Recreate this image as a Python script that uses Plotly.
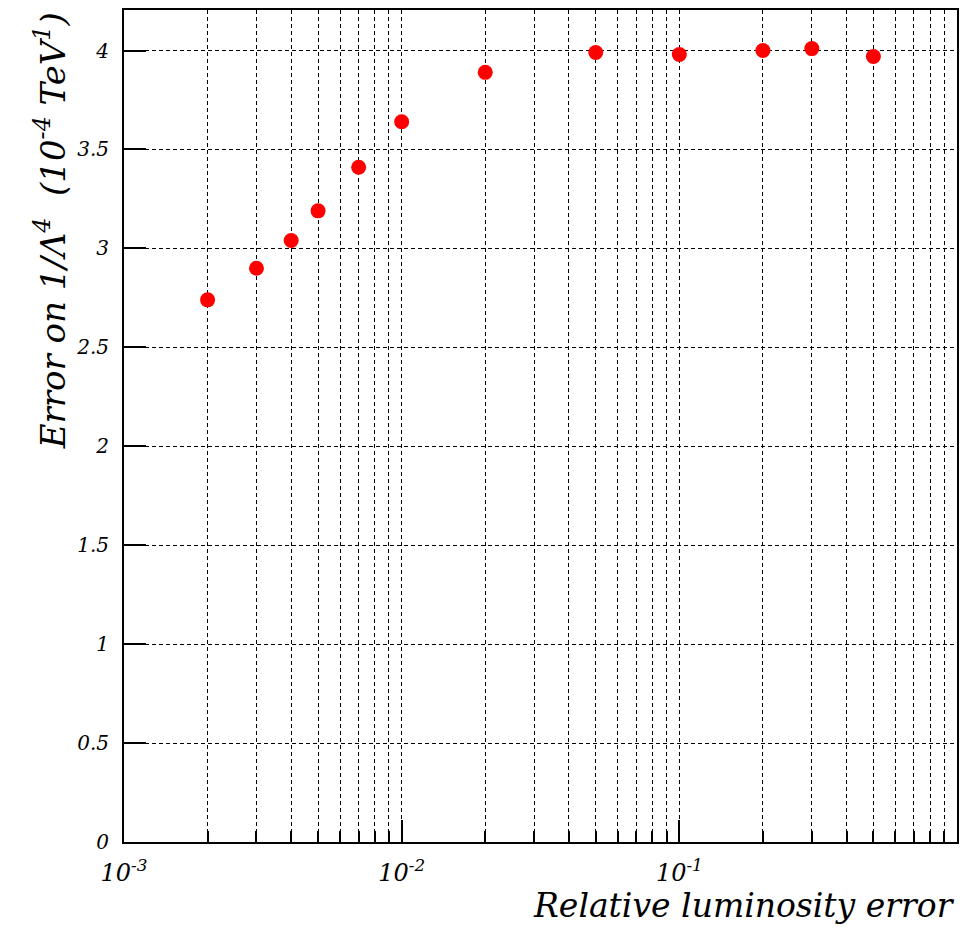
import plotly.graph_objects as go

# Data
lumi_err = [0.002, 0.003, 0.004, 0.005, 0.007, 0.01, 0.02, 0.05, 0.1, 0.2, 0.3, 0.5]
err_inv_lambda4 = [2.74, 2.90, 3.04, 3.19, 3.41, 3.64, 3.89, 3.99, 3.98, 4.00, 4.01, 3.97]

x_major_vals = [0.001, 0.01, 0.1]
x_major_text = ["10<sup>-3</sup>", "10<sup>-2</sup>", "10<sup>-1</sup>"]
x_minor_vals = [m * 10 ** e for e in (-3, -2, -1) for m in range(2, 10)]
y_tick_vals = [0, 0.5, 1, 1.5, 2, 2.5, 3, 3.5, 4]
y_tick_text = ["0", "0.5", "1", "1.5", "2", "2.5", "3", "3.5", "4"]

FONT = "DejaVu Serif"

fig = go.Figure()
fig.add_trace(go.Scatter(
    x=lumi_err, y=err_inv_lambda4, mode="markers",
    marker=dict(color="#ff0000", size=15, line=dict(width=0)),
    showlegend=False,
))

grid = dict(gridcolor="black", gridwidth=1.2, griddash="4px,3px")

fig.update_layout(
    width=965, height=927,
    margin=dict(l=124, r=6, t=10, b=85),
    paper_bgcolor="white", plot_bgcolor="white",
    font=dict(family=FONT, color="black"),
    xaxis=dict(
        type="log", range=[-3, 0],
        tickmode="array", tickvals=x_major_vals, ticktext=x_major_text,
        tickfont=dict(family=FONT, size=24, color="black", style="italic"),
        ticks="inside", ticklen=22, tickwidth=1.5, tickcolor="black",
        showgrid=True, **grid,
        minor=dict(tickmode="array", tickvals=x_minor_vals, ticks="inside",
                   ticklen=11, tickwidth=1.5, tickcolor="black",
                   showgrid=True, gridcolor="black", gridwidth=1.2, griddash="4px,3px"),
        showline=True, linecolor="black", linewidth=2, mirror=True,
        zeroline=False, ticklabelstandoff=8,
    ),
    yaxis=dict(
        range=[0, 4.205],
        tickmode="array", tickvals=y_tick_vals, ticktext=y_tick_text,
        tickfont=dict(family=FONT, size=20, color="black", style="italic"),
        ticks="inside", ticklen=22, tickwidth=1.5, tickcolor="black",
        showgrid=True, **grid,
        showline=True, linecolor="black", linewidth=2, mirror=True,
        zeroline=False, ticklabelstandoff=9,
    ),
    annotations=[
        dict(text="Relative luminosity error", xref="paper", yref="paper",
             x=1.0, y=-0.05, xanchor="right", yanchor="top", showarrow=False,
             font=dict(family=FONT, size=33, color="black", style="italic")),
        dict(text="Error on 1/Λ<sup>4</sup>  (10<sup>-4</sup> TeV<sup>1</sup>)",
             xref="paper", yref="paper", x=-0.089, y=1.0, xanchor="center", yanchor="top",
             textangle=-90, showarrow=False,
             font=dict(family=FONT, size=34, color="black", style="italic")),
    ],
)

fig.write_html("out.html")
